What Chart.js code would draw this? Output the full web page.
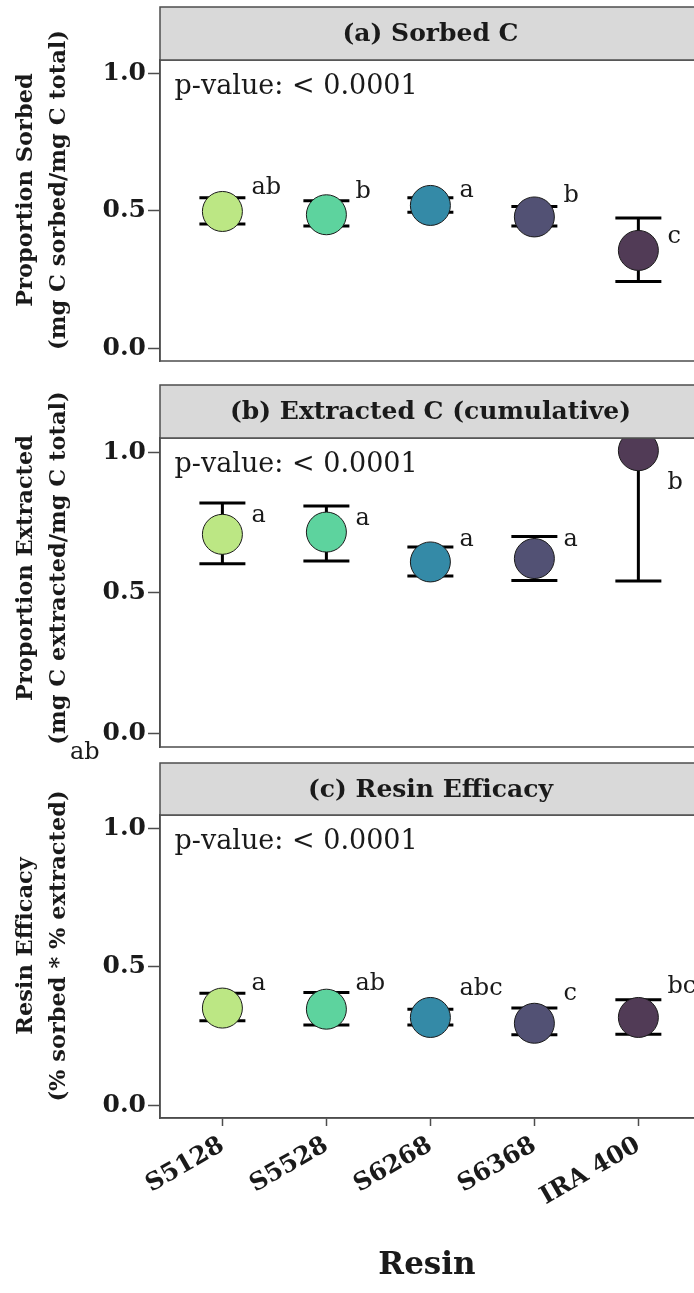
<!DOCTYPE html>
<html>
<head>
<meta charset="utf-8">
<script src="https://cdn.jsdelivr.net/npm/chart.js@4.4.1/dist/chart.umd.min.js"></script>
<style>
  html, body { margin: 0; padding: 0; background: #fff; }
  body { width: 694px; height: 1293px; position: relative; overflow: hidden; }
  .panel { position: absolute; left: 0; width: 694px; }
</style>
</head>
<body>
<div class="panel" style="top:0px;height:378px"><canvas id="chart1" width="694" height="378"></canvas></div>
<div class="panel" style="top:378px;height:390px"><canvas id="chart2" width="694" height="390"></canvas></div>
<div class="panel" style="top:756px;height:537px"><canvas id="chart3" width="694" height="537"></canvas></div>
<script>
const resins = ["S5128", "S5528", "S6268", "S6368", "IRA 400"];
const resinColors = ["#BCE784", "#5DD39E", "#348AA7", "#525174", "#513B56"];
const yTicks = [0, 0.5, 1.0];
const pValueText = "p-value: < 0.0001";

// (a) sorbed
const sorbedMean = [0.498, 0.486, 0.52, 0.478, 0.356];
const sorbedLow = [0.452, 0.445, 0.495, 0.445, 0.243];
const sorbedHigh = [0.548, 0.537, 0.548, 0.516, 0.474];
const sorbedLetters = ["ab", "b", "a", "b", "c"];
const sorbedLetterY = [0.56, 0.546, 0.552, 0.534, 0.384];

// (b) extracted
const extractedMean = [0.708, 0.716, 0.61, 0.622, 1.005];
const extractedLow = [0.604, 0.613, 0.56, 0.544, 0.542];
const extractedHigh = [0.819, 0.809, 0.663, 0.70, 1.468];
const extractedLetters = ["a", "a", "a", "a", "b"];
const extractedLetterY = [0.751, 0.74, 0.667, 0.667, 0.868];

// (c) efficacy
const efficacyMean = [0.351, 0.347, 0.317, 0.296, 0.317];
const efficacyLow = [0.305, 0.29, 0.29, 0.254, 0.256];
const efficacyHigh = [0.405, 0.407, 0.347, 0.351, 0.381];
const efficacyLetters = ["a", "ab", "abc", "c", "bc"];
const efficacyLetterY = [0.418, 0.418, 0.399, 0.381, 0.407];

const serif = "'DejaVu Serif', 'Liberation Serif', serif";
const ink = "#1a1a1a";
const frame = "#4d4d4d";

const facetPlugin = {
  id: "facet",
  beforeDatasetsDraw(chart, args, opts) {
    const ctx = chart.ctx, area = chart.chartArea;
    const xs = chart.scales.x, ys = chart.scales.y;
    ctx.save();
    ctx.beginPath();
    ctx.rect(area.left, area.top, area.right - area.left, area.bottom - area.top);
    ctx.clip();
    ctx.strokeStyle = "#000";
    ctx.lineWidth = 3;
    opts.low.forEach((lo, i) => {
      const x = xs.getPixelForValue(i);
      const y1 = ys.getPixelForValue(lo), y2 = ys.getPixelForValue(opts.high[i]);
      ctx.beginPath();
      ctx.moveTo(x, y1); ctx.lineTo(x, y2);
      ctx.moveTo(x - 23, y1); ctx.lineTo(x + 23, y1);
      ctx.moveTo(x - 23, y2); ctx.lineTo(x + 23, y2);
      ctx.stroke();
    });
    ctx.restore();
  },
  afterDatasetsDraw(chart, args, opts) {
    const ctx = chart.ctx;
    const xs = chart.scales.x, ys = chart.scales.y;
    ctx.save();
    ctx.fillStyle = ink;
    ctx.font = "24px " + serif;
    ctx.textAlign = "left";
    ctx.textBaseline = "alphabetic";
    opts.letters.forEach((t, i) => {
      ctx.fillText(t, xs.getPixelForValue(i + 0.28), ys.getPixelForValue(opts.letterY[i]));
    });
    ctx.font = "27px " + serif;
    ctx.fillText(pValueText, xs.getPixelForValue(-0.46), ys.getPixelForValue(1.0) + 20);
    if (opts.extra) {
      ctx.font = "24px " + serif;
      ctx.fillText(opts.extra.text, opts.extra.x, opts.extra.y);
    }
    ctx.restore();
  },
  afterDraw(chart, args, opts) {
    const ctx = chart.ctx, area = chart.chartArea;
    ctx.save();
    // panel border
    ctx.strokeStyle = frame;
    ctx.lineWidth = 1.5;
    ctx.strokeRect(area.left, area.top, area.right - area.left + 10, area.bottom - area.top);
    // strip
    const stripTop = 7;
    ctx.fillStyle = "#d9d9d9";
    ctx.fillRect(area.left, stripTop, area.right - area.left + 10, area.top - stripTop);
    ctx.strokeRect(area.left, stripTop, area.right - area.left + 10, area.top - stripTop);
    ctx.fillStyle = ink;
    ctx.font = "bold 25px " + serif;
    ctx.textAlign = "center";
    ctx.textBaseline = "middle";
    ctx.fillText(opts.strip, 430.5, (stripTop + area.top) / 2 + 1);
    // y title, two lines
    ctx.font = "bold 22.5px " + serif;
    opts.yTitle.forEach((line, k) => {
      ctx.save();
      ctx.translate(k === 0 ? 26 : 59, 190);
      ctx.rotate(-Math.PI / 2);
      ctx.fillText(line, 0, 0);
      ctx.restore();
    });
    ctx.restore();
  }
};

function makePanel(id, cfg) {
  const showX = !!cfg.showX;
  return new Chart(document.getElementById(id).getContext("2d"), {
    type: "scatter",
    data: {
      datasets: [{
        data: cfg.mean.map((v, i) => ({ x: i, y: v })),
        backgroundColor: resinColors,
        borderColor: ink,
        borderWidth: 1,
        pointRadius: 20,
        pointHoverRadius: 20,
        clip: 0
      }]
    },
    options: {
      responsive: false,
      animation: false,
      events: [],
      layout: { autoPadding: false, padding: { top: cfg.top, bottom: cfg.bottom, left: 0, right: 0 } },
      plugins: {
        legend: { display: false },
        tooltip: { enabled: false },
        facet: {
          strip: cfg.strip, yTitle: cfg.yTitle,
          low: cfg.low, high: cfg.high,
          letters: cfg.letters, letterY: cfg.letterY,
          extra: cfg.extra
        }
      },
      scales: {
        x: {
          type: "linear",
          min: -0.6,
          max: 4.535,
          display: showX,
          afterBuildTicks: s => { s.ticks = resins.map((r, i) => ({ value: i })); },
          afterFit: s => { if (showX) s.height = cfg.xHeight; },
          grid: { drawOnChartArea: false, drawTicks: true, tickLength: 8, tickColor: frame, tickWidth: 1.5 },
          border: { display: true, color: frame, width: 1.5 },
          ticks: {
            minRotation: 30, maxRotation: 30, padding: 5,
            color: ink,
            font: { family: serif, size: 24.5, weight: "bold" },
            callback: v => resins[v]
          },
          title: {
            display: true, text: "Resin", color: ink,
            font: { family: serif, size: 31, weight: "bold" },
            padding: { top: 0, bottom: 8 }
          }
        },
        y: {
          min: -0.047,
          max: 1.05,
          afterBuildTicks: s => { s.ticks = yTicks.map(v => ({ value: v })); },
          afterFit: s => { s.width = 160; },
          grid: { drawOnChartArea: false, drawTicks: true, tickLength: 12, tickColor: frame, tickWidth: 1.5 },
          border: { display: true, color: frame, width: 1.5 },
          ticks: {
            padding: 2, color: ink,
            font: { family: serif, size: 25, weight: "bold" },
            callback: v => v.toFixed(1)
          }
        }
      }
    },
    plugins: [facetPlugin]
  });
}

makePanel("chart1", {
  strip: "(a) Sorbed C",
  yTitle: ["Proportion Sorbed", "(mg C sorbed/mg C total)"],
  mean: sorbedMean, low: sorbedLow, high: sorbedHigh,
  letters: sorbedLetters, letterY: sorbedLetterY,
  top: 60, bottom: 10
});

makePanel("chart2", {
  strip: "(b) Extracted C (cumulative)",
  yTitle: ["Proportion Extracted", "(mg C extracted/mg C total)"],
  mean: extractedMean, low: extractedLow, high: extractedHigh,
  letters: extractedLetters, letterY: extractedLetterY,
  extra: { text: "ab", x: 70, y: 381 },
  top: 60, bottom: 21
});

makePanel("chart3", {
  strip: "(c) Resin Efficacy",
  yTitle: ["Resin Efficacy", "(% sorbed * % extracted)"],
  mean: efficacyMean, low: efficacyLow, high: efficacyHigh,
  letters: efficacyLetters, letterY: efficacyLetterY,
  showX: true, xHeight: 175,
  top: 59, bottom: 0
});
</script>
</body>
</html>
